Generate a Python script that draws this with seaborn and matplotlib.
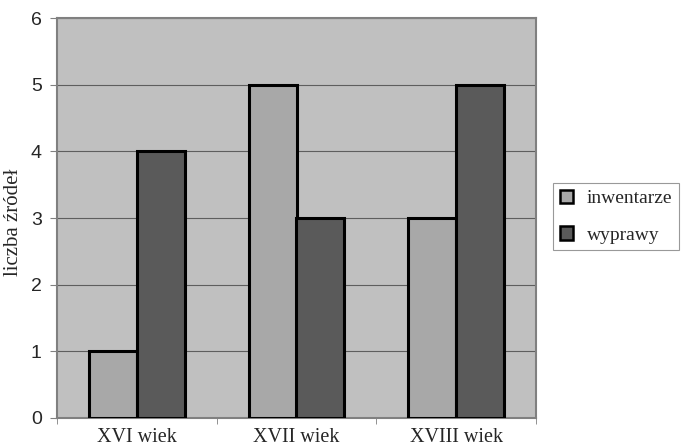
import matplotlib
matplotlib.use("Agg")
import matplotlib.pyplot as plt
import seaborn as sns
import pandas as pd
from matplotlib.patches import Patch

categories = ["XVI wiek", "XVII wiek", "XVIII wiek"]
inwentarze = [1, 5, 3]
wyprawy = [4, 3, 5]
series = ["inwentarze", "wyprawy"]
colors = ["#a8a8a8", "#5a5a5a"]

df = pd.DataFrame({
    "wiek": categories * 2,
    "liczba": inwentarze + wyprawy,
    "seria": [series[0]] * 3 + [series[1]] * 3,
})

sns.set_style("white")
fig = plt.figure(figsize=(6.81, 4.46), dpi=100)
ax = fig.add_axes([57 / 681, 28 / 446, 479 / 681, 400 / 446])
ax.set_facecolor("#c0c0c0")

sns.barplot(data=df, x="wiek", y="liczba", hue="seria", palette=colors,
            width=0.6, gap=0, edgecolor="black", linewidth=2.2, ax=ax,
            legend=False, zorder=3)

ax.set_ylim(0, 6)
ax.set_xlim(-0.5, 2.5)
ax.set_yticks(range(0, 7))
ax.yaxis.grid(True, color="#5e5e5e", linewidth=0.8, zorder=0)
ax.set_axisbelow(True)
for s in ax.spines.values():
    s.set_color("#808080")
    s.set_linewidth(1.5)
ax.set_xticks([-0.5, 0.5, 1.5, 2.5], minor=True)
ax.tick_params(axis="x", which="minor", length=4, color="#808080", bottom=True)
ax.tick_params(axis="y", length=5, color="#808080", labelsize=14, pad=6, left=True)
ax.tick_params(axis="x", which="major", length=0, labelsize=14.5, pad=7)
for lab in ax.get_yticklabels():
    lab.set_family("Liberation Sans")
for lab in ax.get_xticklabels():
    lab.set_family("Liberation Serif")
ax.set_xlabel("")
ax.set_ylabel("liczba źródeł", family="Liberation Serif", fontsize=15)
ax.yaxis.set_label_coords(-0.071, 0.49)

handles = [Patch(facecolor=c, edgecolor="black", linewidth=1.8) for c in colors]
leg = fig.legend(handles, series, loc="upper left",
                 bbox_to_anchor=(553 / 681, 1 - 183 / 446),
                 prop={"family": "Liberation Serif", "size": 14},
                 frameon=True, fancybox=False, edgecolor="#808080",
                 handlelength=0.7, handleheight=0.7, handletextpad=0.7,
                 borderpad=0.35, labelspacing=0.95, borderaxespad=0)
leg.get_frame().set_linewidth(0.8)

fig.savefig("out.png", dpi=100)
